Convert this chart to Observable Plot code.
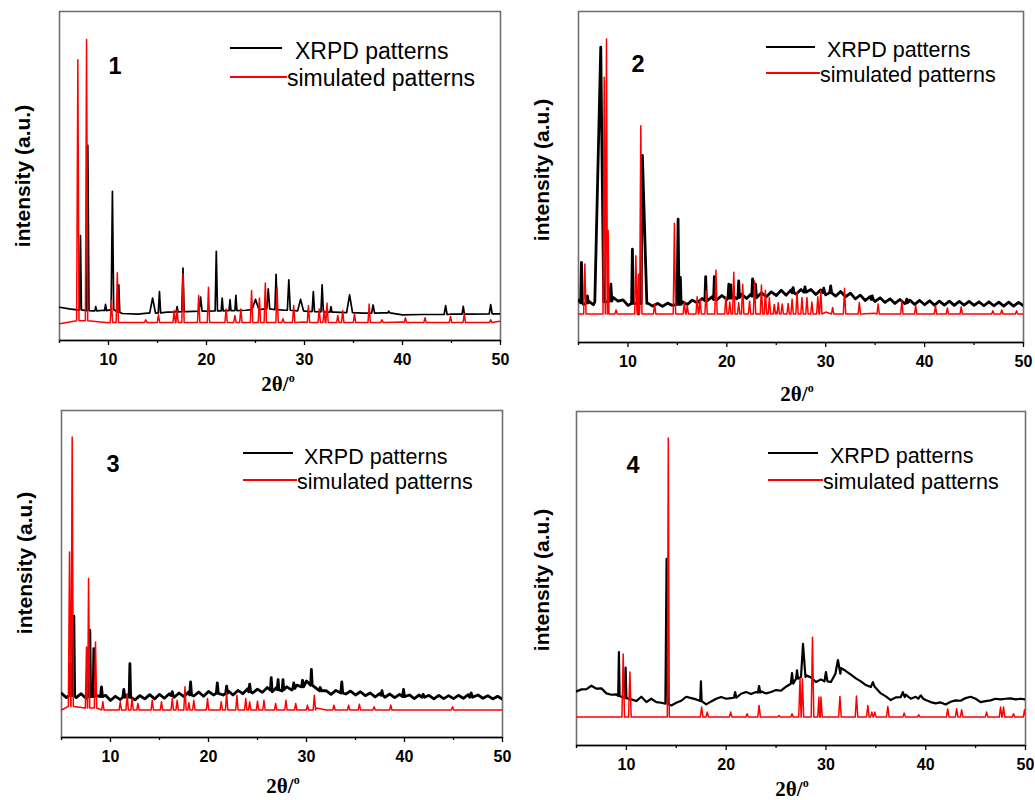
<!DOCTYPE html>
<html><head><meta charset="utf-8">
<script src="https://cdn.jsdelivr.net/npm/d3@7"></script>
<script src="https://cdn.jsdelivr.net/npm/@observablehq/plot@0.6"></script>
<style>
body{margin:0;background:#fff}
#root{position:relative;width:1035px;height:800px;overflow:hidden;background:#fff}
.panel{position:absolute}
#overlay{position:absolute;left:0;top:0}
</style></head><body><div id="root"></div>
<script>
// ---------- axis ticks ----------
const xTicks = [10, 20, 30, 40, 50];
const xMinorTicks = [5, 15, 25, 35, 45];
const seriesNames = ["XRPD patterns", "simulated patterns"];
const panelNames = ["1", "2", "3", "4"];
const xTitle = "2θ/";
const yTitle = "intensity (a.u.)";

// peaks: [2θ, top, base?, halfWidthLeft?, halfWidthRight?]  (intensity in % of panel height)
// ---------- panel 1 ----------
const sim1Base = [[5,5.1],[10,5.4],[20,5.5],[30,5.6],[40,5.6],[50,5.9]];
const sim1Peaks = [[6.87,85.3,6],[7.76,91.5,6],[10.3,12.2],[10.9,20.6],[13.8,6.3],[15.1,7.8],[16.7,9.1],[17.0,9.1],[17.6,20.3],[19.2,13.7],[20.2,16.2],[22.0,9.6],[22.9,7.6],[23.5,9.6],[24.6,15.2],[25.4,12.9],[26.0,17.5],[27.2,16.0],[27.8,6.6],[28.9,10.6],[30.4,10.6],[31.5,9.6],[32.0,9.1],[32.3,11.4],[33.4,7.6],[33.9,9.1],[35.1,8.1],[36.6,11.1],[37.9,6.3],[40.3,6.9],[42.3,6.9],[44.9,7.3],[46.3,8.1],[49.0,6.3]];
const xrpd1Base = [[5,10.1],[6,9.6],[6.8,9.3],[8.4,9.0],[9.5,9.2],[11.4,8.2],[13,8.0],[14,8.3],[16,8.6],[18,8.8],[20,8.9],[22,9.1],[24,9.2],[26,9.6],[28,9.2],[30,8.9],[33,8.6],[36,8.3],[38,8.4],[40,7.8],[42,7.9],[45,8.0],[47,8.0],[50,8.1]];
const xrpd1Peaks = [[7.14,31.9,9.3,0.1],[7.89,59.3,9.1,0.12],[8.7,10.3,9.0],[9.7,11.0,9.1],[10.4,45.3,9.4,0.13],[11.05,16.9,8.6,0.1],[14.5,12.9,8.3,0.3],[15.2,14.9,8.4,0.12],[17.0,10.3,8.7],[17.6,22.0,8.8,0.12],[19.4,13.2,8.9,0.15],[21.0,27.1,9.0,0.12],[21.6,12.9,9.0],[22.4,12.4,9.1],[23.0,13.7,9.1],[25.0,12.5,9.4,0.35],[26.3,15.7,9.6,0.15],[27.1,20.1,9.4,0.12],[28.4,18.4,9.2,0.15],[29.6,12.5,9.0,0.3],[30.9,14.9,8.8,0.12],[31.8,16.9,8.7,0.12],[32.7,10.3,8.6],[34.6,13.9,8.5,0.3],[37.0,10.8,8.3,0.15],[38.6,8.9,8.4],[44.4,10.6,7.9,0.15],[46.2,10.4,8.0,0.12],[49.0,10.9,8.1,0.15]];

// ---------- panel 2 ----------
const sim2Base = [[5,8.6],[20,8.8],[25,9.2],[30,9.2],[35,8.8],[50,8.6]];
const sim2Peaks = [[5.64,23.7],[7.6,80.1],[7.83,91.7],[8.0,33.8,8.6,0.08],[8.8,9.8],[10.8,26.2],[11.06,20.7,8.6,0.08],[11.3,65.5],[12.7,11.6],[14.7,36.0],[15.7,12.1],[16.0,11.1],[17.0,13.8],[17.3,13.1],[17.9,15.6],[18.9,21.9],[19.9,13.8],[20.3,12.2],[20.7,21.2],[21.2,12.0],[21.6,17.6],[22.3,12.5],[22.8,18.6],[23.5,17.4],[23.9,15.8],[24.3,13.6],[24.8,11.5],[25.2,12.0],[25.6,11.6],[26.2,11.8],[26.6,13.1],[27.1,15.1],[27.6,13.6],[28.1,13.6],[28.6,12.2],[29.2,13.8],[29.5,15.6],[30.7,10.6],[31.9,16.4],[33.4,12.1],[35.3,11.6],[37.7,12.6],[39.1,11.1],[41.1,11.1],[42.3,10.4],[43.7,10.8],[46.9,9.6],[47.8,9.8],[49.3,9.6]];
const xrpd2Base = [12.8,11.5,12.6,11.4,12.0,12.0,12.4,13.6,12.5,12.9,11.2,12.0,11.0,12.0,11.9,11.0,11.8,10.9,11.9,11.2,12.0,12.3,11.5,12.8,12.0,13.3,12.6,13.8,12.9,14.2,13.0,14.3,13.2,14.6,13.3,14.8,13.5,15.0,13.8,15.3,14.2,15.8,14.3,15.9,14.6,16.0,14.6,16.0,14.5,15.9,14.4,15.8,14.0,15.4,13.8,14.9,13.2,14.3,12.7,13.9,12.4,13.5,12.1,13.2,11.8,13.0,11.7,12.8,11.5,12.7,11.4,12.6,11.3,12.5,11.3,12.5,11.2,12.4,11.3,12.4,11.2,12.3,11.1,12.3,11.1,12.2,11.0,12.2,11.0,12.1,11.1];
const xrpd2Peaks = [[5.3,24.2,12,0.08],[5.9,14.1,12,0.08],[7.25,89.2,12.3,0.6,0.3],[8.27,17.6,12.5,0.1],[10.45,28.2,11.8,0.08],[11.06,8.6,11.8,0.06],[11.46,56.5,11.8,0.12,0.45],[15.07,37.3,11.5,0.1],[15.3,19.7,11.5,0.08],[17.86,19.9,12.6,0.08],[18.74,19.9,13.0,0.08],[20.2,17.6,13.4,0.08],[20.4,17.4,13.4,0.08],[21.2,18.6,13.6,0.08],[22.6,19.2,14.0,0.08],[22.9,17.6,14.0,0.08],[26.7,16.6,15.0,0.1],[27.9,16.8,15.2,0.1],[29.8,16.4,15.0,0.1],[30.5,17.1,15.0,0.1],[34.7,14.1,13.0,0.1],[38.2,13.1,12.0,0.1]];

// ---------- panel 3 ----------
const sim3Base = [[5,8.4],[17,8.4],[18,9.0],[31,9.0],[32,8.4],[50,8.4]];
const sim3Peaks = [[5.82,56.7,9.5],[6.09,91.9,9.5],[7.55,27.7,9],[7.76,48.6,9],[8.47,29.2,9],[9.22,10.9],[11.0,10.9],[11.7,13.4],[12.2,11.9],[12.8,10.4],[14.26,11.4],[15.2,10.9],[16.3,11.9],[16.8,11.4],[17.6,15.5],[18.0,10.6],[18.5,11.4],[19.9,11.9],[21.3,10.9],[21.85,13.6],[22.9,12.9],[23.8,11.9],[24.2,10.9],[25.0,11.1],[25.66,11.4],[26.85,10.4],[27.9,11.4],[28.9,10.4],[30.1,9.9],[30.8,12.9],[32.8,9.9],[34.3,9.9],[35.4,10.2],[36.9,9.4],[38.6,9.9],[44.9,9.4]];
const xrpd3Base = [13.5,12.2,13.0,12.2,13.4,12.0,12.8,12.9,12.6,12.9,11.3,12.6,11.6,13.0,12.4,11.5,12.8,11.8,13.1,11.8,13.2,12.0,13.4,12.3,13.6,12.5,14.0,12.7,13.9,12.6,14.1,13.0,14.3,13.0,14.3,13.0,14.4,13.4,14.9,13.6,14.8,13.8,15.3,14.0,15.4,14.2,15.5,14.5,16.0,15.2,17.3,16.5,15.0,14.0,14.3,13.2,14.4,13.0,13.3,14.2,13.0,14.0,12.8,13.6,12.4,13.5,12.3,13.3,12.2,13.2,12.1,13.0,11.9,13.0,12.2,12.9,11.8,12.9,11.9,12.8,11.9,12.9,12.0,13.1,12.4,13.0,12.0,12.8,11.8,12.6,11.7];
const xrpd3Peaks = [[5.92,22.6,13,0.06],[6.26,37.1,12.8,0.08],[7.69,25.2,12.5,0.06],[7.89,32.8,12.5,0.08],[8.3,27.2,12.5,0.07],[9.08,15.5,12.5,0.1],[11.36,14.7,12.3,0.1],[11.98,22.6,12.3,0.08],[16.3,14.0,12.8,0.1],[18.17,17.0,13.0,0.1],[20.9,16.7,13.5,0.1],[21.85,15.7,13.5,0.1],[24.2,16.3,14.0,0.1],[26.4,18.3,14.5,0.08],[27.1,17.7,14.6,0.08],[27.6,17.7,14.6,0.08],[28.7,16.7,15.0,0.1],[29.6,17.5,15.5,0.1],[30.5,20.8,16.0,0.08],[31.4,15.3,14.3,0.1],[33.6,17.0,13.6,0.1],[37.7,14.3,12.9,0.1],[39.9,14.7,12.5,0.1],[41.9,13.2,12.3,0.15],[46.8,13.6,12.3,0.15]];

// ---------- panel 4 ----------
const sim4Base = [[5,8.5],[50,8.5]];
const sim4Peaks = [[9.68,27.4],[10.35,22.0],[14.2,92.1,8.5,0.1],[17.54,11.5],[18.1,10.0],[20.45,10.0],[22.1,9.5],[23.3,12.0],[25.3,9.0],[26.6,9.5],[27.4,20.0],[27.64,20.0],[28.65,32.4],[29.3,14.5],[29.5,14.5],[31.4,14.7],[33.06,14.8],[34.2,12.0],[34.6,10.0],[34.9,10.0],[36.2,11.7],[37.84,9.7],[39.3,9.2],[42.2,11.0],[43.1,11.0],[43.6,10.7],[46.1,10.0],[47.5,11.5],[47.8,11.5],[48.8,9.5],[49.9,10.7]];
const xrpd4Base = [16.2,16.8,16.9,17.9,17.0,17.1,15.6,15.2,15.3,14.6,14.0,13.8,13.3,14.6,13.0,14.0,13.0,12.8,12.4,12.0,12.8,13.4,14.6,14.2,13.8,13.0,12.3,13.2,14.0,14.5,14.0,14.2,15.0,15.5,16.0,15.4,16.0,16.2,15.6,16.0,16.6,16.4,17.6,19.3,20.5,21.0,21.0,20.4,19.0,19.8,20.0,19.0,23.0,23.2,22.3,21.2,20.1,19.2,18.1,18.0,17.2,15.6,14.7,13.6,14.4,15.3,15.2,14.0,14.6,14.5,13.6,13.0,12.6,12.9,12.3,13.1,13.5,13.4,14.2,14.6,14.0,13.0,13.3,13.5,14.0,13.8,14.0,14.1,13.8,14.0,13.8];
const xrpd4Peaks = [[9.25,28.0,14.8,0.07],[9.92,23.3,14.2,0.08],[14.03,55.9,12.5,0.12],[17.47,19.2,13.3,0.07],[20.9,16.0,14.3,0.12],[23.3,17.8,15.8,0.12],[26.6,21.7,18.5,0.12],[27.1,22.5,20,0.1],[27.7,30.4,20.5,0.2,0.25],[30.0,22.0,19.2,0.15],[31.2,25.6,21.5,0.25,0.25],[34.7,19.0,17.5,0.2],[37.7,16.0,14.5,0.2],[39.5,15.0,14.0,0.25]];

// ---------- build line tables ----------
const grid = d3.range(5, 50.001, 0.5);
const pairs = vals => vals.map((v, i) => [grid[i], v]);
function series(baseline, peaks, defBase, defW) {
  const inPeak = x => peaks.some(p => {
    const wl = p[3] ?? defW, wr = p[4] ?? wl;
    return x >= p[0] - wl - 1e-6 && x <= p[0] + wr + 1e-6;
  });
  const pts = baseline.filter(([x]) => !inPeak(x)).map(([x, y]) => ({x, y}));
  for (const p of peaks) {
    const [x, top] = p, base = p[2] ?? defBase, wl = p[3] ?? defW, wr = p[4] ?? wl;
    pts.push({x: x - wl, y: base}, {x, y: top}, {x: x + wr, y: base});
  }
  return pts.sort((a, b) => a.x - b.x);
}

const panels = [
  {black: series(xrpd1Base, xrpd1Peaks, 9, 0.1), red: series(sim1Base, sim1Peaks, 5.5, 0.12), bw: 1.7,
   box: {left:0, top:0, width:517, height:400, mL:59, mR:17, mT:11, mB:60},
   t: {numX:115, numY:74, lx1:230, lx2:282, by:48, rx2:287, ry:77, xrX:295, xrY:59, smX:287, smY:86, fs:23, ylX:22, ylY:176, xtX:278, xtY:391}},
  {black: series(pairs(xrpd2Base), xrpd2Peaks, 12, 0.1), red: series(sim2Base, sim2Peaks, 8.6, 0.12), bw: 2.8,
   box: {left:517, top:0, width:518, height:400, mL:61, mR:12, mT:11, mB:58},
   t: {numX:638, numY:72, lx1:766, lx2:815, by:47, rx2:820, ry:73, xrX:827, xrY:57, smX:820, smY:82, fs:21.5, ylX:541, ylY:170, xtX:797, xtY:401}},
  {black: series(pairs(xrpd3Base), xrpd3Peaks, 12.5, 0.1), red: series(sim3Base, sim3Peaks, 8.4, 0.12), bw: 2.8,
   box: {left:0, top:400, width:517, height:400, mL:61, mR:15, mT:10, mB:63},
   t: {numX:113, numY:472, lx1:243, lx2:293, by:453, rx2:297, ry:480, xrX:304, xrY:464, smX:297, smY:489, fs:21.5, ylX:24, ylY:563, xtX:283, xtY:793}},
  {black: series(pairs(xrpd4Base), xrpd4Peaks, 14, 0.1), red: series(sim4Base, sim4Peaks, 8.5, 0.13), bw: 2.2,
   box: {left:517, top:400, width:518, height:400, mL:59, mR:10, mT:11, mB:55},
   t: {numX:633, numY:473, lx1:768, lx2:818, by:453, rx2:823, ry:480, xrX:830, xrY:463, smX:823, smY:489, fs:21.5, ylX:541, ylY:580, xtX:792, xtY:796}},
];

const root = document.getElementById("root");
const sans = "'Liberation Sans', Arial, Helvetica, sans-serif";
for (const p of panels) {
  const b = p.box;
  const chart = Plot.plot({
    width: b.width, height: b.height,
    marginLeft: b.mL, marginRight: b.mR, marginTop: b.mT, marginBottom: b.mB,
    x: {domain: [5, 50], label: null},
    y: {domain: [0, 100], axis: null, label: null},
    style: {fontFamily: sans, background: "transparent", overflow: "visible", color: "#000"},
    marks: [
      Plot.frame({stroke: "#707070", strokeWidth: 1.6}),
      Plot.ruleY([0], {stroke: "#000", strokeWidth: 1.6}),
      Plot.axisX({ticks: xMinorTicks, tickSize: 3, text: null, label: null, strokeWidth: 1.3}),
      Plot.axisX({ticks: xTicks, tickSize: 5, tickPadding: 8, label: null, fontSize: 16, fontWeight: "bold", tickFormat: d => String(d), strokeWidth: 1.3}),
      Plot.line(p.black, {x: "x", y: "y", stroke: "#000", strokeWidth: p.bw, strokeLinejoin: "round", clip: true}),
      Plot.line(p.red, {x: "x", y: "y", stroke: "#ff0000", strokeWidth: 1.5, clip: true})
    ]
  });
  const div = document.createElement("div");
  div.className = "panel";
  div.style.left = b.left + "px"; div.style.top = b.top + "px";
  div.style.width = b.width + "px"; div.style.height = b.height + "px";
  div.appendChild(chart);
  root.appendChild(div);
}

// ---------- overlay: panel numbers, legends, axis titles ----------
const ov = d3.select(root).append("svg").attr("id", "overlay").attr("width", 1035).attr("height", 800);
panels.forEach((p, i) => {
  const t = p.t;
  ov.append("text").attr("x", t.numX).attr("y", t.numY).attr("text-anchor", "middle")
    .attr("font-family", sans).attr("font-weight", "bold").attr("font-size", 23.5).text(panelNames[i]);
  ov.append("line").attr("x1", t.lx1).attr("x2", t.lx2).attr("y1", t.by).attr("y2", t.by).attr("stroke", "#000").attr("stroke-width", 2);
  ov.append("line").attr("x1", t.lx1).attr("x2", t.rx2).attr("y1", t.ry).attr("y2", t.ry).attr("stroke", "#ff0000").attr("stroke-width", 2);
  ov.append("text").attr("x", t.xrX).attr("y", t.xrY).attr("font-family", sans).attr("font-size", t.fs).text(seriesNames[0]);
  ov.append("text").attr("x", t.smX).attr("y", t.smY).attr("font-family", sans).attr("font-size", t.fs).text(seriesNames[1]);
  ov.append("text").attr("transform", `translate(${t.ylX},${t.ylY}) rotate(-90)`).attr("text-anchor", "middle")
    .attr("dominant-baseline", "central").attr("font-family", sans).attr("font-weight", "bold").attr("font-size", 21).text(yTitle);
  const xt = ov.append("text").attr("x", t.xtX).attr("y", t.xtY).attr("text-anchor", "middle")
    .attr("font-family", "'Liberation Serif', 'Times New Roman', serif").attr("font-weight", "bold").attr("font-size", 21);
  xt.append("tspan").text(xTitle);
  xt.append("tspan").attr("dy", -9).attr("font-size", 12).text("o");
});
</script></body></html>
